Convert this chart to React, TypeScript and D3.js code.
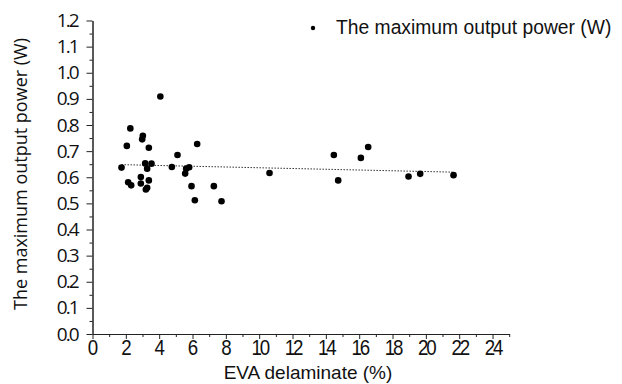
import React, { useEffect, useRef } from 'react';
import * as d3 from 'd3';

// EVA delaminate (%) vs maximum output power (W)
const delaminate = [
  4.07, 2.27, 3.02, 2.98, 2.06, 3.38, 6.28, 5.1, 3.16, 3.54, 1.74, 3.28, 4.76, 5.8,
  5.62, 5.56, 10.62, 2.9, 3.38, 2.14, 2.32, 2.9, 3.28, 3.2, 5.94, 7.28, 6.14, 7.74,
  14.48, 16.54, 16.1, 14.74, 18.96, 19.66, 21.66,
];
const maxPower = [
  0.909, 0.787, 0.759, 0.745, 0.72, 0.713, 0.727, 0.685, 0.653, 0.652, 0.637, 0.633, 0.639, 0.638,
  0.633, 0.614, 0.616, 0.601, 0.588, 0.581, 0.569, 0.576, 0.56, 0.553, 0.566, 0.566, 0.512, 0.508,
  0.685, 0.716, 0.674, 0.588, 0.603, 0.613, 0.608,
];
const xMajorTicks = [0, 2, 4, 6, 8, 10, 12, 14, 16, 18, 20, 22, 24];
const yMajorTicks = [0, 0.1, 0.2, 0.3, 0.4, 0.5, 0.6, 0.7, 0.8, 0.9, 1.0, 1.1, 1.2];
const seriesName = 'The maximum output power (W)';

const W = 622;
const H = 384;

export default function App() {
  const svgRef = useRef<SVGSVGElement>(null);

  useEffect(() => {
    const svg = d3.select(svgRef.current);
    svg.selectAll('*').remove();

    const x = d3.scaleLinear().domain([0, 25]).range([92.5, 509.2]);
    const y = d3.scaleLinear().domain([0, 1.2]).range([334, 20.5]);
    const ink = '#222';

    // x axis: minor ticks on odd values, labelled majors on even ones
    const gxMinor = svg.append('g').attr('transform', `translate(0,${y(0)})`)
      .call(d3.axisBottom(x).tickValues(d3.range(1, 26, 2)).tickSize(3).tickSizeOuter(0).tickFormat(() => ''));
    gxMinor.select('.domain').attr('stroke', ink);
    gxMinor.selectAll('line').attr('stroke', ink);

    const gx = svg.append('g').attr('transform', `translate(0,${y(0)})`)
      .call(d3.axisBottom(x).tickValues(xMajorTicks).tickSize(5).tickPadding(0).tickSizeOuter(0)
        .tickFormat(d3.format('d')));
    gx.select('.domain').attr('stroke', ink);
    gx.selectAll('line').attr('stroke', ink);
    // narrow, tall digits like the original
    gx.selectAll('text')
      .attr('font-family', '"Liberation Sans", Arial, sans-serif')
      .attr('font-size', 22)
      .attr('letter-spacing', (d: any) => (d >= 10 ? -2.5 : 0))
      .attr('transform', 'scale(0.85,1)')
      .attr('fill', '#111');

    // y axis
    const gyMinor = svg.append('g').attr('transform', `translate(${x(0)},0)`)
      .call(d3.axisLeft(y).tickValues(d3.range(0.05, 1.2, 0.1)).tickSize(3).tickSizeOuter(0).tickFormat(() => ''));
    gyMinor.select('.domain').attr('stroke', ink);
    gyMinor.selectAll('line').attr('stroke', ink);

    const gy = svg.append('g').attr('transform', `translate(${x(0)},0)`)
      .call(d3.axisLeft(y).tickValues(yMajorTicks).tickSize(6).tickPadding(9).tickSizeOuter(0)
        .tickFormat(d3.format('.1f')));
    gy.select('.domain').attr('stroke', ink);
    gy.selectAll('line').attr('stroke', ink);
    gy.selectAll('text')
      .attr('font-family', '"Open Sans", sans-serif')
      .attr('font-size', 19)
      .attr('letter-spacing', -2)
      .attr('fill', '#111');

    // linear trend line (least squares fit of the points)
    const mx = d3.mean(delaminate) as number;
    const my = d3.mean(maxPower) as number;
    let sxy = 0;
    let sxx = 0;
    delaminate.forEach((v, i) => {
      sxy += (v - mx) * (maxPower[i] - my);
      sxx += (v - mx) * (v - mx);
    });
    const slope = sxy / sxx;
    const icpt = my - slope * mx;
    const [x0, x1] = d3.extent(delaminate) as [number, number];
    svg.append('line')
      .attr('x1', x(x0)).attr('y1', y(icpt + slope * x0))
      .attr('x2', x(x1)).attr('y2', y(icpt + slope * x1))
      .attr('stroke', '#333')
      .attr('stroke-width', 1)
      .attr('stroke-dasharray', '1.5,1.5');

    // points
    svg.append('g')
      .selectAll('circle')
      .data(delaminate)
      .join('circle')
      .attr('cx', d => x(d))
      .attr('cy', (d, i) => y(maxPower[i]))
      .attr('r', 3.3)
      .attr('fill', '#000');

    // axis titles
    svg.append('text')
      .attr('x', 308).attr('y', 379)
      .attr('text-anchor', 'middle')
      .attr('font-family', '"Liberation Sans", Arial, sans-serif')
      .attr('font-size', 19)
      .attr('fill', '#111')
      .text('EVA delaminate (%)');

    svg.append('text')
      .attr('transform', 'translate(27,174) rotate(-90)')
      .attr('text-anchor', 'middle')
      .attr('font-family', '"Open Sans", sans-serif')
      .attr('font-size', 18)
      .attr('fill', '#111')
      .text('The maximum output power (W)');

    // legend
    const lg = svg.append('g');
    lg.append('circle').attr('cx', 313).attr('cy', 28).attr('r', 2.2).attr('fill', '#000');
    lg.append('text')
      .attr('x', 336).attr('y', 34)
      .attr('font-family', '"Liberation Sans", Arial, sans-serif')
      .attr('font-size', 19.3)
      .attr('fill', '#111')
      .text(seriesName);
  }, []);

  return (
    <svg
      ref={svgRef}
      width={W}
      height={H}
      style={{ position: 'absolute', left: 0, top: 0, background: '#fff' }}
    />
  );
}
